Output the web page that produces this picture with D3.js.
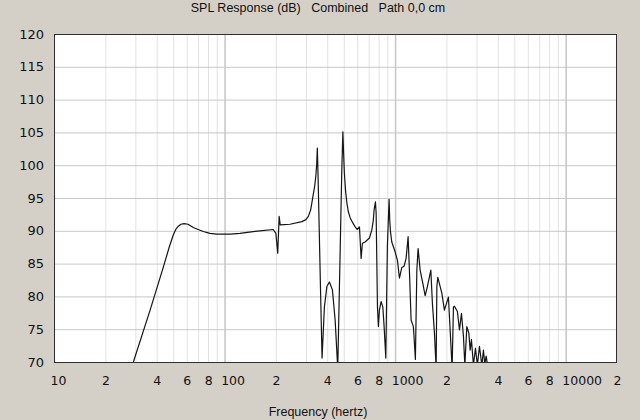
<!DOCTYPE html>
<html><head><meta charset="utf-8">
<script src="https://cdn.jsdelivr.net/npm/d3@7"></script>
<style>
html,body{margin:0;padding:0;background:#d4d0c8;}
svg{display:block;}
</style></head>
<body>
<svg id="chart" width="640" height="420"></svg>
<script>
const title = "SPL Response (dB)   Combined   Path 0,0 cm";
const xTitle = "Frequency (hertz)";
const yTicks = [70, 75, 80, 85, 90, 95, 100, 105, 110, 115, 120];
const xLabelTicks = [10, 20, 40, 60, 80, 100, 200, 400, 600, 800, 1000, 2000, 4000, 6000, 8000, 10000, 20000];
const xLabelText = ["10", "2", "4", "6", "8", "100", "2", "4", "6", "8", "1000", "2", "4", "6", "8", "10000", "2"];
const xGridTicks = [20,30,40,50,60,70,80,90,100,200,300,400,500,600,700,800,900,1000,2000,3000,4000,5000,6000,7000,8000,9000,10000];
const xDecades = [100, 1000, 10000];

const freq = [29.2, 36.6, 43.8, 47.5, 50.1, 52.0, 53.6, 55.5, 57.9, 61.0, 65.6, 70.0, 75.1, 82.0, 90, 108, 123, 151, 193, 200, 205, 209, 212, 242, 284, 300, 310, 320, 332, 338, 343, 347, 350, 354, 358, 365, 373, 385, 398, 412, 429, 445, 461, 476, 487, 494, 499, 504, 512, 521, 532, 545, 565, 583, 599, 618, 632, 643, 667, 707, 730, 745, 753, 767, 774, 788, 798, 809, 828, 847, 862, 882, 901, 922, 930, 940, 956, 1000, 1032, 1060, 1094, 1129, 1160, 1192, 1213, 1241, 1280, 1315, 1341, 1364, 1402, 1454, 1500, 1546, 1620, 1655, 1701, 1740, 1757, 1780, 1879, 1946, 2054, 2102, 2159, 2198, 2228, 2319, 2384, 2449, 2516, 2564, 2634, 2706, 2754, 2803, 2879, 2958, 3039, 3122, 3225, 3295, 3358, 3418, 3478, 3607, 3700];
const spl  = [70.0, 77.9, 84.5, 87.6, 89.4, 90.3, 90.7, 91.0, 91.1, 91.0, 90.5, 90.2, 89.9, 89.6, 89.5, 89.5, 89.6, 89.9, 90.2, 89.6, 86.6, 92.2, 90.9, 91.0, 91.4, 91.7, 92.2, 93.2, 95.7, 96.9, 98.4, 100.2, 102.6, 97.5, 91.6, 81.5, 70.6, 78.4, 81.5, 82.2, 81.0, 76.4, 69.0, 86.6, 99.3, 105.1, 101.8, 98.8, 96.2, 94.3, 92.9, 92.0, 91.2, 90.6, 90.2, 90.6, 85.8, 88.1, 88.3, 88.9, 90.1, 91.6, 93.2, 94.4, 92.7, 78.4, 75.4, 77.9, 79.2, 78.4, 75.4, 70.6, 87.6, 94.8, 91.6, 89.8, 88.3, 86.8, 85.5, 82.8, 84.4, 84.6, 85.8, 89.1, 84.0, 76.4, 75.4, 70.4, 84.0, 87.3, 84.0, 82.0, 80.1, 81.5, 84.0, 78.9, 74.4, 69.0, 81.5, 82.9, 80.5, 77.9, 79.9, 74.9, 69.0, 78.4, 78.5, 77.7, 74.9, 77.4, 73.9, 69.5, 75.4, 74.4, 71.8, 73.4, 69.5, 72.1, 69.5, 72.4, 69.5, 71.8, 69.7, 70.9, 69.7, 69.8, 66.0];

const svg = d3.select("#chart");
const L = 54, R = 617, T = 34, B = 362;
const x = d3.scaleLog().domain([10, 20000]).range([L, R]);
const y = d3.scaleLinear().domain([70, 120]).range([B, T]);

svg.append("rect").attr("x", L).attr("y", T).attr("width", R - L).attr("height", B - T).attr("fill", "#fff");

// vertical grid
const gx = svg.append("g").attr("transform", `translate(0,${B})`)
  .call(d3.axisBottom(x).tickValues(xGridTicks).tickSize(-(B - T)).tickFormat(""));
gx.select(".domain").remove();
gx.selectAll(".tick line").attr("stroke", d => xDecades.includes(d) ? "#c6c6c6" : "#e2e2e2").attr("stroke-width", d => xDecades.includes(d) ? 1.5 : 1);

// horizontal grid
const gy = svg.append("g").attr("transform", `translate(${L},0)`)
  .call(d3.axisLeft(y).tickValues(yTicks.slice(1, -1)).tickSize(-(R - L)).tickFormat(""));
gy.select(".domain").remove();
gy.selectAll(".tick line").attr("stroke", "#c8c8c8");

// curve
svg.append("clipPath").attr("id", "clip").append("rect").attr("x", L).attr("y", T).attr("width", R - L).attr("height", B - T);
const line = d3.line().x((d, i) => x(freq[i])).y(d => y(d));
svg.append("path").datum(spl).attr("d", line).attr("fill", "none").attr("stroke", "#141414").attr("stroke-width", 1.2)
  .attr("stroke-linejoin", "round").attr("clip-path", "url(#clip)");

// frame
svg.append("rect").attr("x", L + 0.5).attr("y", T + 0.5).attr("width", R - L - 1).attr("height", B - T).attr("fill", "none").attr("stroke", "#303030").attr("stroke-width", 1);

// y axis labels
const ay = svg.append("g").attr("transform", `translate(${L},0)`)
  .call(d3.axisLeft(y).tickValues(yTicks).tickSize(0).tickPadding(10));
ay.select(".domain").remove();
ay.selectAll("text").attr("font-family", "DejaVu Sans, Verdana, sans-serif").attr("font-size", 13).attr("fill", "#111");

// x axis labels
const ax = svg.append("g").attr("transform", `translate(0,${B})`)
  .call(d3.axisBottom(x).tickValues(xLabelTicks).tickSize(0).tickPadding(14)
    .tickFormat((d, i) => xLabelText[i]));
ax.select(".domain").remove();
ax.selectAll("text").attr("font-family", "DejaVu Sans, Verdana, sans-serif").attr("font-size", 12.5).attr("fill", "#111")
  .attr("text-anchor", "start").attr("dx", -3.9);

svg.append("text").attr("x", 318).attr("y", 12).attr("text-anchor", "middle")
  .attr("font-family", "Liberation Sans, Arial, sans-serif").attr("font-size", 12.5).attr("fill", "#111")
  .style("white-space", "pre").text(title);
svg.append("text").attr("x", 318).attr("y", 416).attr("text-anchor", "middle")
  .attr("font-family", "Liberation Sans, Arial, sans-serif").attr("font-size", 12.5).attr("fill", "#111")
  .text(xTitle);
</script>
</body></html>
